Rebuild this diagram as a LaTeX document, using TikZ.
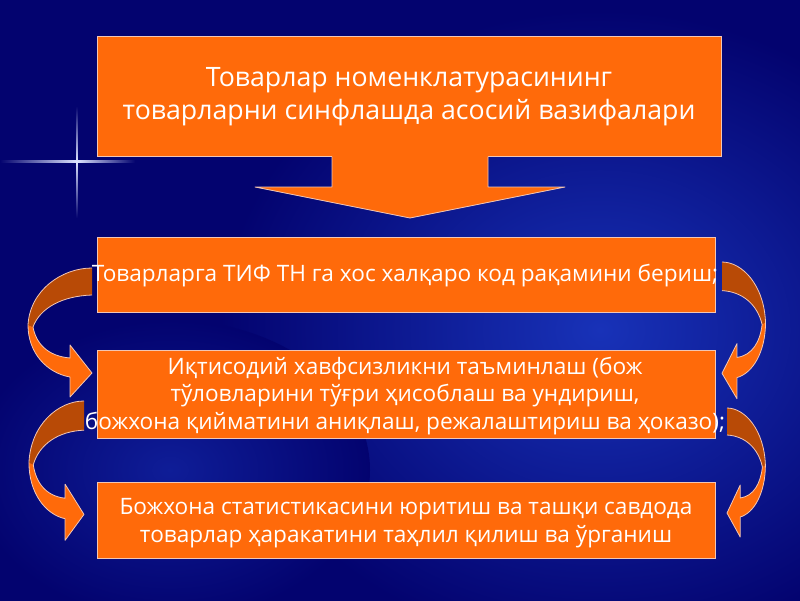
\documentclass[tikz,border=0pt]{standalone}
\usepackage{fontspec}
\setmainfont{Open Sans}
\definecolor{bgnavy}{HTML}{03036F}
\definecolor{bglight}{HTML}{1832B8}
\definecolor{orng}{HTML}{FF6A0A}
\definecolor{arrdark}{HTML}{B84A06}
\definecolor{edgecol}{HTML}{F2C6B4}
\definecolor{flare}{HTML}{DDE4FF}
\newcommand\ribbonarrow{%
  \fill[arrdark] (0,0) .. controls (-30,0) and (-62,22) .. (-64,57) -- (-59,59)
     .. controls (-52,40) and (-30,28) .. (0,27) -- cycle;
  \fill[orng] (-64,57) .. controls (-64,85) and (-45,105) .. (-22,109) -- (-22,129) -- (0,105)
     -- (-22,77) -- (-22,90) .. controls (-45,88) and (-56,75) .. (-59,59) -- cycle;
  \draw[edge] (0,0) .. controls (-30,0) and (-62,22) .. (-64,57)
     .. controls (-64,85) and (-45,105) .. (-22,109) -- (-22,129) -- (0,105) -- (-22,77) -- (-22,90)
     .. controls (-45,88) and (-56,75) .. (-59,59) .. controls (-52,40) and (-30,28) .. (0,27);
}
\begin{document}
\begin{tikzpicture}[x=1pt,y=-1pt,
  edge/.style={draw=edgecol, line width=0.8pt, line join=round},
  box/.style={draw=edgecol, line width=1pt, fill=orng, inner sep=0pt},
  txt/.style={text=white, align=center, inner sep=0pt}]
\useasboundingbox (0,0) rectangle (800,600);
% background
\fill[bgnavy] (-10,-10) rectangle (810,610);
\shade[inner color=bglight, outer color=bgnavy] (600,330) ellipse (380 and 320);
\shade[inner color=bglight!55!bgnavy, outer color=bgnavy] (170,470) ellipse (200 and 150);
% flare
\shade[left color=bgnavy, right color=flare] (0,160.7) rectangle (77,162.3);
\shade[left color=flare, right color=bgnavy] (77,160.7) rectangle (135,162.3);
\shade[top color=bgnavy, bottom color=flare] (76.2,106) rectangle (77.8,161.5);
\shade[top color=flare, bottom color=bgnavy] (76.2,161.5) rectangle (77.8,218);
% boxes
\node[box, minimum width=624pt, minimum height=120pt] (top) at (409,96) {};
\node[box, minimum width=618pt, minimum height=75pt] (b2) at (406,274.5) {};
\node[box, minimum width=618pt, minimum height=88pt] (b3) at (406,394) {};
\node[box, minimum width=618pt, minimum height=76pt] (b4) at (406,520) {};
% down arrow
\fill[orng] (332,155) -- (332,187) -- (255,187) -- (410,218) -- (565,187) -- (488,187) -- (488,155) -- cycle;
\draw[edge] (332,156.5) -- (332,187) -- (255,187) -- (410,218) -- (565,187) -- (488,187) -- (488,156.5);
% texts
\node[txt, font=\fontsize{26.7}{33}\selectfont] (t1) at (409,97) {Товарлар номенклатурасининг\\товарларни синфлашда асосий вазифалари};
\node[txt, font=\fontsize{22.6}{27.5}\selectfont] (t2) at (405,276) {Товарларга ТИФ ТН га хос халқаро код рақамини бериш;};
\node[txt, font=\fontsize{22.6}{27.5}\selectfont] (t3) at (405,396) {Иқтисодий хавфсизликни таъминлаш (бож\\тўловларини тўғри ҳисоблаш ва ундириш,\\божхона қийматини аниқлаш, режалаштириш ва ҳоказо);};
\node[txt, font=\fontsize{22.6}{28}\selectfont] (t4) at (406,523) {Божхона статистикасини юритиш ва ташқи савдода\\товарлар ҳаракатини таҳлил қилиш ва ўрганиш};
% curved arrows
\begin{scope}[shift={(92,268)}]\ribbonarrow\end{scope}
\begin{scope}[shift={(84,401)}, xscale=0.86, yscale=1.08]\ribbonarrow\end{scope}
\begin{scope}[shift={(722,262)}, xscale=-0.68, yscale=1.06]\ribbonarrow\end{scope}
\begin{scope}[shift={(727,408)}, xscale=-0.6, yscale=1.0]\ribbonarrow\end{scope}
\end{tikzpicture}
\end{document}
